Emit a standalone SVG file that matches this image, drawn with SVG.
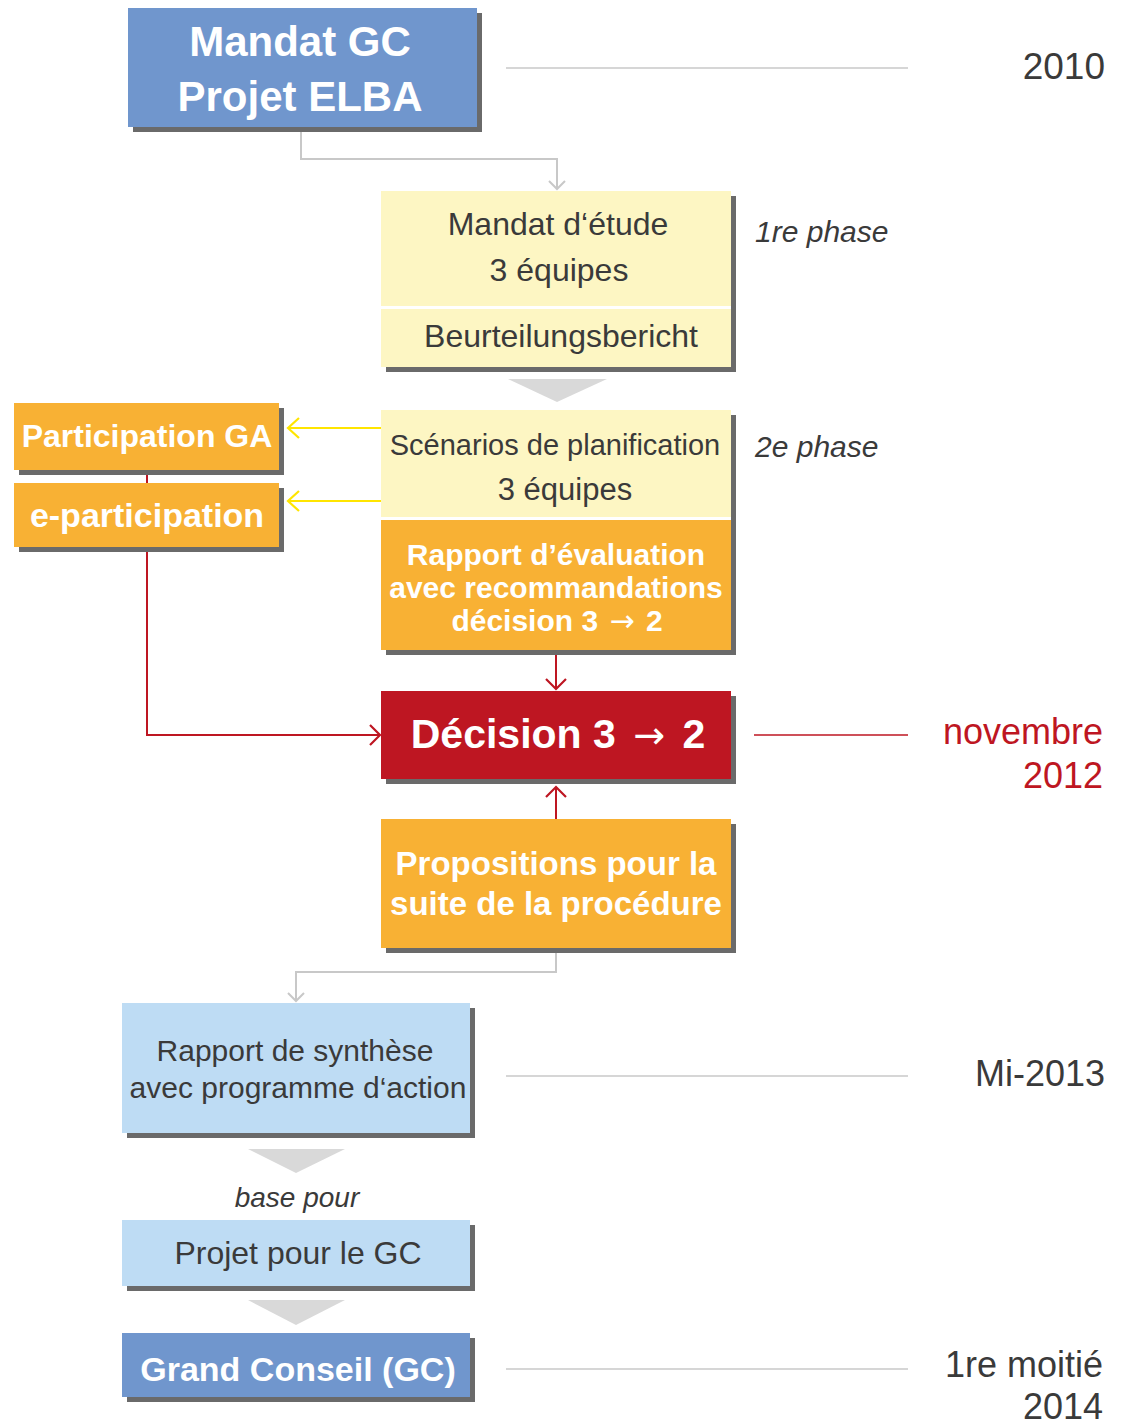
<svg xmlns="http://www.w3.org/2000/svg" width="1129" height="1425" viewBox="0 0 1129 1425">
<style>
text{font-family:"Liberation Sans",Arial,sans-serif}
.b{font-weight:bold;fill:#fff}
.d{fill:#3a3a3a}
.it{font-style:italic;fill:#3a3a3a}
.sh{fill:#6a6a6a}
.blue{fill:#7096cd}
.yel{fill:#fdf6c3}
.org{fill:#f8b134}
.red{fill:#be1622}
.lb{fill:#bedcf4}
.tri{fill:#d9d9d9}
.tl{stroke:#c8c8c8;stroke-width:1.5;fill:none}
.gc{stroke:#c8c8c8;stroke-width:2;fill:none}
.rc{stroke:#be1622;stroke-width:2;fill:none}
.yc{stroke:#ffe500;stroke-width:2;fill:none}
.ar{font-family:"DejaVu Sans",sans-serif;font-weight:normal}
</style>
<defs>
<marker id="mg" markerUnits="userSpaceOnUse" viewBox="-12 -12 14 24" markerWidth="14" markerHeight="24" refX="0" refY="0" orient="auto"><path d="M-8,-8 L0,0 L-8,8" fill="none" stroke="#c8c8c8" stroke-width="2"/></marker>
<marker id="mr" markerUnits="userSpaceOnUse" viewBox="-13 -13 15 26" markerWidth="15" markerHeight="26" refX="0" refY="0" orient="auto"><path d="M-10,-10 L0,0 L-10,10" fill="none" stroke="#be1622" stroke-width="2.2"/></marker>
<marker id="my" markerUnits="userSpaceOnUse" viewBox="-13 -13 15 26" markerWidth="15" markerHeight="26" refX="0" refY="0" orient="auto"><path d="M-11,-10 L0,0 L-11,10" fill="none" stroke="#ffe500" stroke-width="2.2"/></marker>
</defs>

<g id="timeline">
<line class="tl" x1="506" y1="68" x2="908" y2="68"/>
<line class="tl" x1="506" y1="1076" x2="908" y2="1076"/>
<line class="tl" x1="506" y1="1369" x2="908" y2="1369"/>
<line x1="754" y1="735" x2="908" y2="735" stroke="#be1622" stroke-width="1.5"/>
<text class="d" x="1105" y="79" font-size="37" text-anchor="end">2010</text>
<text class="it" x="755" y="242" font-size="30">1re phase</text>
<text class="it" x="755" y="457" font-size="30">2e phase</text>
<text x="1103" y="744" font-size="36" text-anchor="end" fill="#be1622">novembre</text>
<text x="1103" y="788" font-size="36" text-anchor="end" fill="#be1622">2012</text>
<text class="d" x="1105" y="1086" font-size="36" text-anchor="end">Mi-2013</text>
<text class="d" x="1103" y="1377" font-size="36" text-anchor="end">1re moitié</text>
<text class="d" x="1103" y="1419" font-size="36" text-anchor="end">2014</text>
</g>

<g id="connectors">
<path class="gc" d="M301,127 V159 H557 V189" marker-end="url(#mg)"/>
<path class="gc" d="M556,950 V972 H296 V1001" marker-end="url(#mg)"/>
<path class="rc" d="M556,653 V689" marker-end="url(#mr)"/>
<path class="rc" d="M556,819 V787" marker-end="url(#mr)"/>
<path class="rc" d="M147,470 V735 H380" marker-end="url(#mr)"/>
<path class="yc" d="M381,428 H288" marker-end="url(#my)"/>
<path class="yc" d="M381,501 H288" marker-end="url(#my)"/>
<polygon class="tri" points="508,379 607,379 557,402"/>
<polygon class="tri" points="248,1149 345,1149 296,1173"/>
<polygon class="tri" points="248,1300 345,1300 296,1325"/>
</g>

<g id="mandat-gc">
<rect class="sh" x="133" y="13" width="349" height="119"/>
<rect class="blue" x="128" y="8" width="349" height="119"/>
<text class="b" x="300" y="56" font-size="42" text-anchor="middle">Mandat GC</text>
<text class="b" x="300" y="111" font-size="42" text-anchor="middle">Projet ELBA</text>
</g>

<g id="mandat-etude">
<rect class="sh" x="386" y="196" width="350" height="176"/>
<rect class="yel" x="381" y="191" width="350" height="115"/>
<rect x="381" y="306" width="350" height="3" fill="#fff"/>
<rect class="yel" x="381" y="309" width="350" height="58"/>
<text class="d" x="558" y="235" font-size="32" text-anchor="middle">Mandat d‘étude</text>
<text class="d" x="559" y="281" font-size="32" text-anchor="middle">3 équipes</text>
<text class="d" x="561" y="347" font-size="32" text-anchor="middle">Beurteilungsbericht</text>
</g>

<g id="scenarios">
<rect class="sh" x="386" y="415" width="350" height="240"/>
<rect class="yel" x="381" y="410" width="350" height="107"/>
<rect x="381" y="517" width="350" height="3" fill="#fff"/>
<rect class="org" x="381" y="520" width="350" height="130"/>
<text class="d" x="555" y="455" font-size="29" text-anchor="middle">Scénarios de planification</text>
<text class="d" x="565" y="500" font-size="31" text-anchor="middle">3 équipes</text>
<text class="b" x="556" y="565" font-size="30" text-anchor="middle">Rapport d’évaluation</text>
<text class="b" x="556" y="598" font-size="30" text-anchor="middle">avec recommandations</text>
<text class="b" x="557" y="631" font-size="30" text-anchor="middle">décision 3 <tspan class="ar" dx="3">→</tspan><tspan dx="3"> 2</tspan></text>
</g>

<g id="participation-ga">
<rect class="sh" x="19" y="408" width="265" height="67"/>
<rect class="org" x="14" y="403" width="265" height="67"/>
<text class="b" x="147" y="447" font-size="32" text-anchor="middle">Participation GA</text>
</g>

<g id="e-participation">
<rect class="sh" x="19" y="488" width="265" height="64"/>
<rect class="org" x="14" y="483" width="265" height="64"/>
<text class="b" x="147" y="527" font-size="34" text-anchor="middle">e-participation</text>
</g>

<g id="decision">
<rect class="sh" x="386" y="696" width="350" height="88"/>
<rect class="red" x="381" y="691" width="350" height="88"/>
<text class="b" x="558" y="748" font-size="41" text-anchor="middle">Décision 3 <tspan class="ar" font-size="38" dx="6">→</tspan><tspan dx="6"> 2</tspan></text>
</g>

<g id="propositions">
<rect class="sh" x="386" y="824" width="350" height="129"/>
<rect class="org" x="381" y="819" width="350" height="129"/>
<text class="b" x="556" y="875" font-size="33" text-anchor="middle">Propositions pour la</text>
<text class="b" x="556" y="915" font-size="33" text-anchor="middle">suite de la procédure</text>
</g>

<g id="rapport-synthese">
<rect class="sh" x="127" y="1008" width="348" height="130"/>
<rect class="lb" x="122" y="1003" width="348" height="130"/>
<text class="d" x="295" y="1061" font-size="30" text-anchor="middle">Rapport de synthèse</text>
<text class="d" x="298" y="1098" font-size="30" text-anchor="middle">avec programme d‘action</text>
</g>

<g id="base-pour">
<text class="it" x="297" y="1207" font-size="28" text-anchor="middle">base pour</text>
</g>

<g id="projet-gc">
<rect class="sh" x="127" y="1225" width="348" height="66"/>
<rect class="lb" x="122" y="1220" width="348" height="66"/>
<text class="d" x="298" y="1264" font-size="32" text-anchor="middle">Projet pour le GC</text>
</g>

<g id="grand-conseil">
<rect class="sh" x="127" y="1338" width="348" height="64"/>
<rect class="blue" x="122" y="1333" width="348" height="64"/>
<text class="b" x="298" y="1381" font-size="34" text-anchor="middle">Grand Conseil (GC)</text>
</g>
</svg>
